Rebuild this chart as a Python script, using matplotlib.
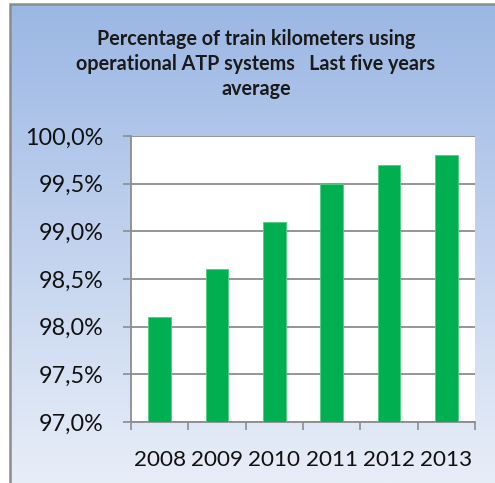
import matplotlib
matplotlib.use("Agg")
import matplotlib.pyplot as plt
import numpy as np
from matplotlib.patches import Rectangle

years = ["2008", "2009", "2010", "2011", "2012", "2013"]
values = [98.1, 98.6, 99.1, 99.5, 99.7, 99.8]
yticks = [97.0, 97.5, 98.0, 98.5, 99.0, 99.5, 100.0]
title = "Percentage of train kilometers using\noperational ATP systems   Last five years\naverage"

W, H = 495, 483
fig = plt.figure(figsize=(W / 100, H / 100), dpi=100)
fig.patch.set_facecolor("white")

# gradient background of chart area
bg = fig.add_axes([10 / W, 0, 1 - 10 / W, 1 - 4 / H])
bg.set_axis_off()
top = np.array([155, 183, 228]) / 255
bot = np.array([232, 238, 248]) / 255
t = np.linspace(0, 1, 256)[:, None]
grad = (top[None, :] * (1 - t) + bot[None, :] * t)[:, None, :]
bg.imshow(grad, aspect="auto", extent=[0, 1, 0, 1], origin="upper")
bg.set_xlim(0, 1)
bg.set_ylim(0, 1)
bg.add_patch(Rectangle((0, -0.1), 1.2, 1.1, transform=bg.transAxes, fill=False,
                       edgecolor="#8c8c8c", linewidth=1.8, clip_on=False))

fig.text(256 / W, 1 - 64 / H, title, ha="center", va="center", fontsize=14.2,
         fontweight="bold", family=["Lato", "DejaVu Sans"], linespacing=1.3, color="#1a1a1a")

ax = fig.add_axes([131 / W, 1 - 422 / H, (475 - 131) / W, (422 - 136) / H])
ax.set_facecolor("white")
x = np.arange(len(years))
ax.bar(x, values, width=0.4, color="#00B050", edgecolor="#4fcf7f", linewidth=0.6, zorder=3,
       bottom=0)
ax.set_xlim(-0.5, len(years) - 0.5)
ax.set_ylim(97.0, 100.0)
ax.set_yticks(yticks)
ax.set_yticklabels([f"{v:.1f}%".replace(".", ",") for v in yticks])
ax.set_xticks(x)
ax.set_xticklabels(years)
ax.set_xticks(np.arange(-0.5, len(years)), minor=True)
ax.tick_params(axis="x", which="major", length=0, pad=20)
ax.tick_params(axis="x", which="minor", length=6, width=1.2, color="#8c8c8c", direction="out")
ax.tick_params(axis="y", length=6, width=1.2, color="#8c8c8c", direction="out", pad=14)
for lab in ax.get_yticklabels():
    lab.set_family(["Lato", "DejaVu Sans"])
    lab.set_fontsize(16.8)
    lab.set_color("#111111")
for lab in ax.get_xticklabels():
    lab.set_family(["Lato", "DejaVu Sans"])
    lab.set_fontsize(16.2)
    lab.set_color("#111111")
ax.grid(axis="y", color="#8c8c8c", linewidth=1.3, zorder=0)
for s in ["top", "right"]:
    ax.spines[s].set_visible(False)
for s in ["left", "bottom"]:
    ax.spines[s].set_color("#8c8c8c")
    ax.spines[s].set_linewidth(1.3)

fig.savefig("out.png", dpi=100)
